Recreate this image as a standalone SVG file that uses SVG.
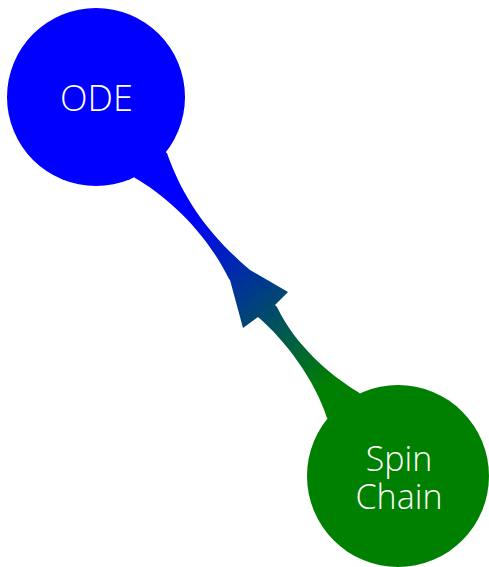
<svg xmlns="http://www.w3.org/2000/svg" width="489" height="567" viewBox="0 0 489 567">
  <defs>
    <linearGradient id="grad" gradientUnits="userSpaceOnUse" x1="185" y1="215" x2="325" y2="390">
      <stop offset="0" stop-color="#0000ff"/>
      <stop offset="1" stop-color="#008000"/>
    </linearGradient>
    <style>
      .lbl { font-family: "Open Sans", "DejaVu Sans", sans-serif; font-weight: 300; font-size: 36px; fill: #ffffff; text-anchor: middle; }
      .sm { font-size: 34px; }
    </style>
  </defs>
  <rect width="489" height="567" fill="#ffffff"/>
  <g id="connectors">
    <path d="M 128,170 L 135,178 C 165,195 205,230 229,279 L 230,280 L 243,328 L 258,317 C 285,340 315,380 327,418 L 340,430 L 368,400 L 358,392 C 330,375 295,345 277,307 L 275,305 L 288,292 L 250,270 C 215,240 185,205 167,153 L 158,148 Z" fill="url(#grad)"/>
  </g>
  <g id="ode">
    <circle cx="96" cy="97" r="89" fill="#0000ff"/>
    <text class="lbl" x="96.5" y="111">ODE</text>
  </g>
  <g id="spinchain">
    <circle cx="398" cy="476" r="91" fill="#008000"/>
    <text class="lbl sm"><tspan x="399" y="471">Spin</tspan><tspan x="399" y="509">Chain</tspan></text>
  </g>
</svg>
